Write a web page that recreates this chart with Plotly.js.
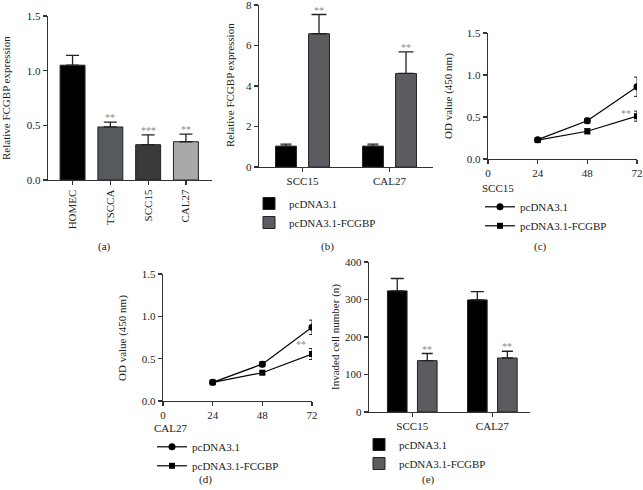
<!DOCTYPE html>
<html>
<head>
<meta charset="utf-8">
<script src="https://cdn.plot.ly/plotly-3.0.1.min.js"></script>
<style>html,body{margin:0;padding:0;background:#fff;}#chart{width:643px;height:490px;}</style>
</head>
<body>
<div id="chart"></div>
<script>
// ---------- Data ----------
// (a) FCGBP expression in cell lines
const aCategories = ['HOMEC', 'TSCCA', 'SCC15', 'CAL27'];
const aValues = [1.05, 0.485, 0.323, 0.35];
const aErrors = [0.09, 0.045, 0.09, 0.07];
const aStars = ['', '**', '***', '**'];
const aColors = ['#000000', '#56595e', '#383a3c', '#a9a9a9'];

// (b) FCGBP expression after transfection
const bCells = ['SCC15', 'CAL27'];
const bVector = [1.03, 1.03];
const bVectorErr = [0.10, 0.10];
const bFCGBP = [6.58, 4.62];
const bFCGBPErr = [0.95, 1.07];
const bStars = ['**', '**'];

// (c) CCK-8, SCC15
const hours = [24, 48, 72];
const cVector = [0.23, 0.455, 0.86];
const cVectorErr = [0.015, 0.03, 0.115];
const cFCGBP = [0.225, 0.33, 0.51];
const cFCGBPErr = [0.015, 0.03, 0.06];

// (d) CCK-8, CAL27
const dVector = [0.22, 0.435, 0.87];
const dVectorErr = [0.015, 0.03, 0.085];
const dFCGBP = [0.22, 0.334, 0.555];
const dFCGBPErr = [0.012, 0.015, 0.065];

// (e) Transwell invasion
const eCells = ['SCC15', 'CAL27'];
const eVector = [323, 299];
const eVectorErr = [33, 22];
const eFCGBP = [137, 144];
const eFCGBPErr = [19, 18];
const eStars = ['**', '**'];

const seriesNames = ['pcDNA3.1', 'pcDNA3.1-FCGBP'];

// Axis titles
const yTitles = {
  a: 'Relative FCGBP expression',
  b: 'Relative FCGBP expression',
  c: 'OD value (450 nm)',
  d: 'OD value (450 nm)',
  e: 'Invaded cell number (n)'
};
const legendTitles = {c: 'SCC15', d: 'CAL27'};

// ---------- Styles ----------
const W = 643, H = 490;
const FONT = 'Liberation Serif, Times New Roman, serif';
const px = v => v / W;
const py = v => 1 - v / H;
const zeros = arr => arr.map(() => 0);
const textFont = {family: FONT, size: 11, color: '#222'};

function ax(extra) {
  return Object.assign({
    showline: true, linecolor: '#333', linewidth: 1.2,
    ticks: 'outside', ticklen: 4, tickwidth: 1.2, tickcolor: '#333',
    showgrid: false, zeroline: false, fixedrange: true,
    ticklabeloverflow: 'allow', tickfont: textFont
  }, extra);
}

const barLine = {color: '#222', width: 1};
const errBar = (arr, w) => ({type: 'data', array: arr, arrayminus: zeros(arr), symmetric: false,
  color: '#222', thickness: 1.3, width: w});
const errLine = arr => ({type: 'data', array: arr, color: '#222', thickness: 1, width: 3});

const traces = [];

// (a)
traces.push({
  type: 'bar', x: aCategories, y: aValues, xaxis: 'x', yaxis: 'y',
  width: 0.66, marker: {color: aColors, line: barLine},
  error_y: errBar(aErrors, 6.5), showlegend: false, hoverinfo: 'x+y'
});

// (b)
traces.push({
  type: 'bar', name: seriesNames[0], x: bCells, y: bVector, xaxis: 'x2', yaxis: 'y2',
  width: 0.24, offset: -0.31, marker: {color: '#000', line: barLine},
  error_y: errBar(bVectorErr, 5.5), legend: 'legend'
});
traces.push({
  type: 'bar', name: seriesNames[1], x: bCells, y: bFCGBP, xaxis: 'x2', yaxis: 'y2',
  width: 0.24, offset: 0.07, marker: {color: '#5a5c60', line: barLine},
  error_y: errBar(bFCGBPErr, 7.5), legend: 'legend'
});

// (c)
traces.push({
  type: 'scatter', mode: 'lines+markers', name: seriesNames[0], x: hours, y: cVector,
  xaxis: 'x3', yaxis: 'y3', line: {color: '#000', width: 1.2},
  marker: {symbol: 'circle', size: 7, color: '#000'}, error_y: errLine(cVectorErr), legend: 'legend2'
});
traces.push({
  type: 'scatter', mode: 'lines+markers', name: seriesNames[1], x: hours, y: cFCGBP,
  xaxis: 'x3', yaxis: 'y3', line: {color: '#000', width: 1.2},
  marker: {symbol: 'square', size: 6, color: '#000'}, error_y: errLine(cFCGBPErr), legend: 'legend2'
});

// (d)
traces.push({
  type: 'scatter', mode: 'lines+markers', name: seriesNames[0], x: hours, y: dVector,
  xaxis: 'x4', yaxis: 'y4', line: {color: '#000', width: 1.2},
  marker: {symbol: 'circle', size: 7, color: '#000'}, error_y: errLine(dVectorErr), legend: 'legend3'
});
traces.push({
  type: 'scatter', mode: 'lines+markers', name: seriesNames[1], x: hours, y: dFCGBP,
  xaxis: 'x4', yaxis: 'y4', line: {color: '#000', width: 1.2},
  marker: {symbol: 'square', size: 6, color: '#000'}, error_y: errLine(dFCGBPErr), legend: 'legend3'
});

// (e)
traces.push({
  type: 'bar', name: seriesNames[0], x: eCells, y: eVector, xaxis: 'x5', yaxis: 'y5',
  width: 0.245, offset: -0.31, marker: {color: '#000', line: barLine},
  error_y: errBar(eVectorErr, 6.5), legend: 'legend4'
});
traces.push({
  type: 'bar', name: seriesNames[1], x: eCells, y: eFCGBP, xaxis: 'x5', yaxis: 'y5',
  width: 0.245, offset: 0.065, marker: {color: '#5a5c60', line: barLine},
  error_y: errBar(eFCGBPErr, 5.5), legend: 'legend4'
});

// ---------- Annotations ----------
const starFont = {family: FONT, size: 10, color: '#8a8a8a'};
const annotations = [];
aStars.forEach((s, i) => {
  if (s) annotations.push({xref: 'x', yref: 'y', x: i, y: aValues[i] + aErrors[i], text: s,
    showarrow: false, yanchor: 'bottom', yshift: -3, font: starFont});
});
bStars.forEach((s, i) => {
  annotations.push({xref: 'x2', yref: 'y2', x: i + 0.19, y: bFCGBP[i] + bFCGBPErr[i], text: s,
    showarrow: false, yanchor: 'bottom', yshift: -3, font: starFont});
});
eStars.forEach((s, i) => {
  annotations.push({xref: 'x5', yref: 'y5', x: i + 0.1875, y: eFCGBP[i] + eFCGBPErr[i], text: s,
    showarrow: false, yanchor: 'bottom', yshift: -3, font: starFont});
});
annotations.push({xref: 'x3', yref: 'y3', x: hours[2], y: cFCGBP[2] + cFCGBPErr[2], text: '**',
  showarrow: false, xanchor: 'right', yanchor: 'middle', xshift: -4, yshift: -2, font: starFont});
annotations.push({xref: 'x4', yref: 'y4', x: hours[2], y: dFCGBP[2] + dFCGBPErr[2], text: '**',
  showarrow: false, xanchor: 'right', yanchor: 'middle', xshift: -4, yshift: 4, font: starFont});

// y-axis titles (placed beside each panel's axis)
const yTitlePos = [['a', 6, 98], ['b', 230, 85], ['c', 448, 96], ['d', 122, 338], ['e', 335, 337]];
yTitlePos.forEach(p => annotations.push({xref: 'paper', yref: 'paper', x: px(p[1]), y: py(p[2]),
  text: yTitles[p[0]], textangle: -90, showarrow: false, xanchor: 'center', yanchor: 'middle',
  font: textFont}));

const panelLabels = [['(a)', 104, 246], ['(b)', 327, 246], ['(c)', 540, 246], ['(d)', 205, 479], ['(e)', 428, 479]];
panelLabels.forEach(p => annotations.push({xref: 'paper', yref: 'paper', x: px(p[1]), y: py(p[2]),
  text: p[0], showarrow: false, xanchor: 'center', yanchor: 'middle', font: textFont}));

// ---------- Layout ----------
const legendBase = {font: textFont, bgcolor: 'rgba(0,0,0,0)',
  xanchor: 'left', yanchor: 'top', tracegroupgap: 0, itemwidth: 30, borderwidth: 0};

const layout = {
  width: W, height: H, margin: {l: 0, r: 0, t: 0, b: 0},
  paper_bgcolor: '#fff', plot_bgcolor: 'rgba(0,0,0,0)',
  font: textFont,
  bargap: 0,
  xaxis: ax({domain: [px(48), px(212)], anchor: 'y', type: 'category', range: [-0.65, 3.69],
    tickangle: -90}),
  yaxis: ax({domain: [py(180), py(16)], anchor: 'x', range: [0, 1.5], dtick: 0.5, tickformat: '.1f'}),
  xaxis2: ax({domain: [px(259), px(433)], anchor: 'y2', type: 'category', range: [-0.5, 1.5]}),
  yaxis2: ax({domain: [py(167), py(5)], anchor: 'x2', range: [0, 8], dtick: 2}),
  xaxis3: ax({domain: [px(488), px(637)], anchor: 'y3', range: [0, 72], tickvals: [0, 24, 48, 72]}),
  yaxis3: ax({domain: [py(159), py(33)], anchor: 'x3', range: [0, 1.5], dtick: 0.5, tickformat: '.1f'}),
  xaxis4: ax({domain: [px(163), px(312)], anchor: 'y4', range: [0, 72], tickvals: [0, 24, 48, 72]}),
  yaxis4: ax({domain: [py(401), py(274)], anchor: 'x4', range: [0, 1.5], dtick: 0.5, tickformat: '.1f'}),
  xaxis5: ax({domain: [px(369), px(530)], anchor: 'y5', type: 'category', range: [-0.54, 1.47]}),
  yaxis5: ax({domain: [py(412), py(262)], anchor: 'x5', range: [0, 400], dtick: 100}),
  legend: Object.assign({}, legendBase, {x: px(249), y: py(189)}),
  legend2: Object.assign({}, legendBase, {x: px(480), y: py(178),
    title: {text: legendTitles.c, font: textFont, side: 'top'}}),
  legend3: Object.assign({}, legendBase, {x: px(152), y: py(418),
    title: {text: legendTitles.d, font: textFont, side: 'top'}}),
  legend4: Object.assign({}, legendBase, {x: px(359), y: py(430)}),
  annotations: annotations,
  showlegend: true
};

Plotly.newPlot('chart', traces, layout, {displayModeBar: false, staticPlot: true});
</script>
</body>
</html>
